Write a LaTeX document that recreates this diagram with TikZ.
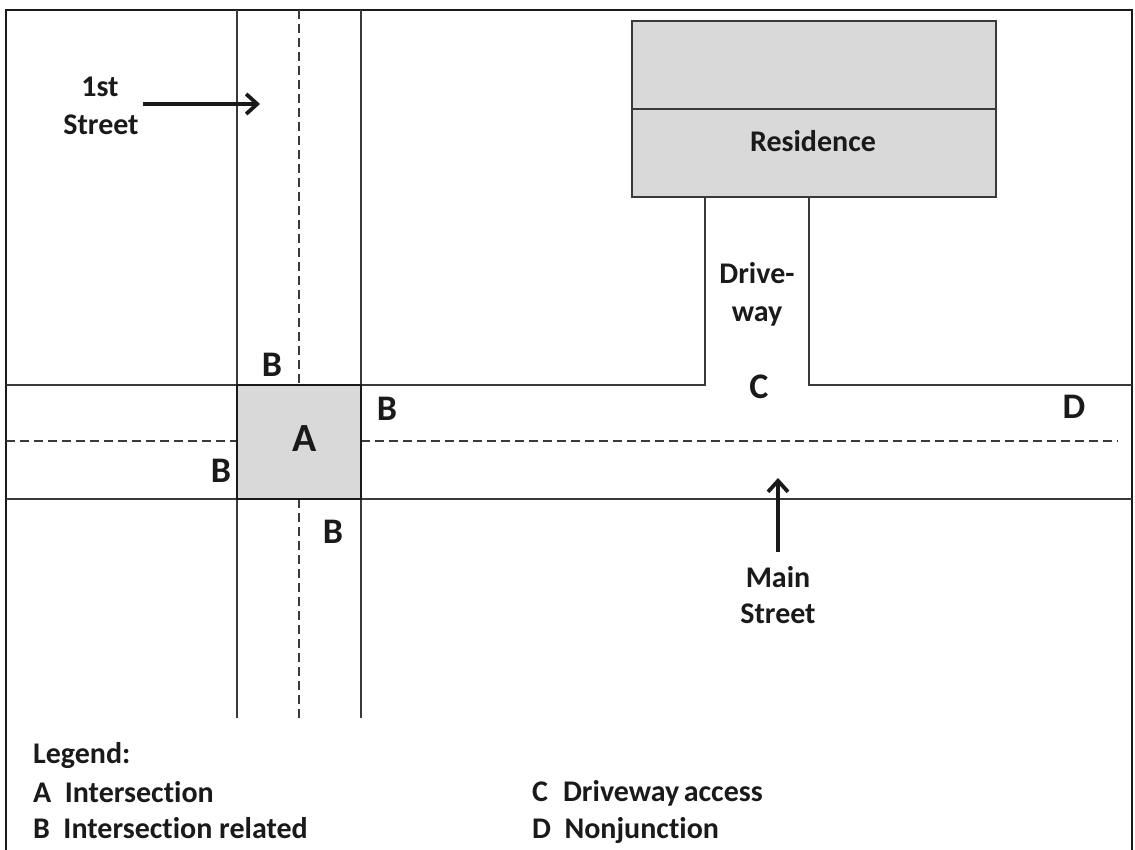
\documentclass[tikz,border=0pt]{standalone}
\usepackage{fontspec}
\setmainfont{Carlito}[Ligatures=NoCommon]
\usetikzlibrary{arrows.meta}
\definecolor{ink}{HTML}{1A1A1A}
\definecolor{roadline}{HTML}{3A3A3A}
\definecolor{lotgray}{HTML}{D9D9D9}
\tikzset{
  road/.style={draw=roadline, line width=1.4pt},
  centre/.style={draw=roadline, line width=1.3pt, dash pattern=on 9pt off 5pt},
  txt/.style={text=ink, font=\fontsize{30}{36}\selectfont\bfseries, inner sep=0pt, anchor=base},
  tag/.style={text=ink, font=\fontsize{36}{40}\selectfont\bfseries, inner sep=0pt, anchor=base},
  legendtxt/.style={text=ink, font=\fontsize{30}{35}\selectfont\bfseries, inner sep=0pt, anchor=base west},
  pointer/.style={draw=ink, line width=4pt, -{Straight Barb[length=11pt,width=20pt,line width=3.8pt]}},
}
\begin{document}
\begin{tikzpicture}[x=1pt,y=-1pt]
\useasboundingbox (0,0) rectangle (1135,850);
\begin{scope}
\clip (0,0) rectangle (1135,850);

% outer frame
\draw[draw=ink, line width=2.4pt] (6,860) -- (6,10) -- (1132,10) -- (1132,860);

% residence and driveway
\draw[road, fill=lotgray] (632,21) rectangle (996,197);
\draw[road] (632,109) -- (996,109);
\node[txt] (res) at (813,152) {Residence};

% main street edges
\draw[road] (6,385) -- (237,385);
\draw[road] (361,385) -- (705,385) -- (705,197);
\draw[road] (809,197) -- (809,385) -- (1132,385);
\draw[road] (6,499) -- (1132,499);
\draw[centre] (6,441) -- (237,441);
\draw[centre] (361,441) -- (1118,441);

% 1st street edges
\draw[road] (237,10) -- (237,385);
\draw[road] (237,499) -- (237,718);
\draw[road] (361,10) -- (361,385);
\draw[road] (361,499) -- (361,718);
\draw[centre] (299,10) -- (299,385);
\draw[centre] (299,499) -- (299,718);

% intersection box
\draw[draw=ink, line width=2.8pt, fill=lotgray] (237,385) rectangle (361,499);

% area labels
\node[tag, font=\fontsize{40}{44}\selectfont\bfseries] (A) at (305,451) {A};
\node[tag] (B1) at (272,376) {B};
\node[tag] (B2) at (387,420) {B};
\node[tag] (B3) at (221,482) {B};
\node[tag] (B4) at (333,543) {B};
\node[tag] (C) at (759,398) {C};
\node[tag] (D) at (1074,418) {D};

% driveway label
\node[txt] (drv1) at (757,284) {Drive-};
\node[txt] (drv2) at (757,322) {way};

% 1st street label and pointer
\node[txt] (fst1) at (100,97) {1st};
\node[txt] (fst2) at (101,135) {Street};
\coordinate (fstA) at (143,104);
\coordinate (fstB) at (260,104);
\draw[pointer] (fstA) -- (fstB);

% main street label and pointer
\node[txt] (mn1) at (778,587) {Main};
\node[txt] (mn2) at (778,623) {Street};
\coordinate (mnA) at (778,552);
\coordinate (mnB) at (778,478);
\draw[pointer] (mnA) -- (mnB);

% legend
\node[legendtxt] (lg) at (33,763) {Legend:};
\node[legendtxt] (lgA) at (33,802) {A\hskip0.45em Intersection};
\node[legendtxt] (lgB) at (33,838) {B\hskip0.45em Intersection related};
\node[legendtxt] (lgC) at (532,801) {C\hskip0.5em Driveway\hskip0.15em access};
\node[legendtxt] (lgD) at (532,838) {D\hskip0.45em Nonjunction};
\end{scope}
\end{tikzpicture}
\end{document}
